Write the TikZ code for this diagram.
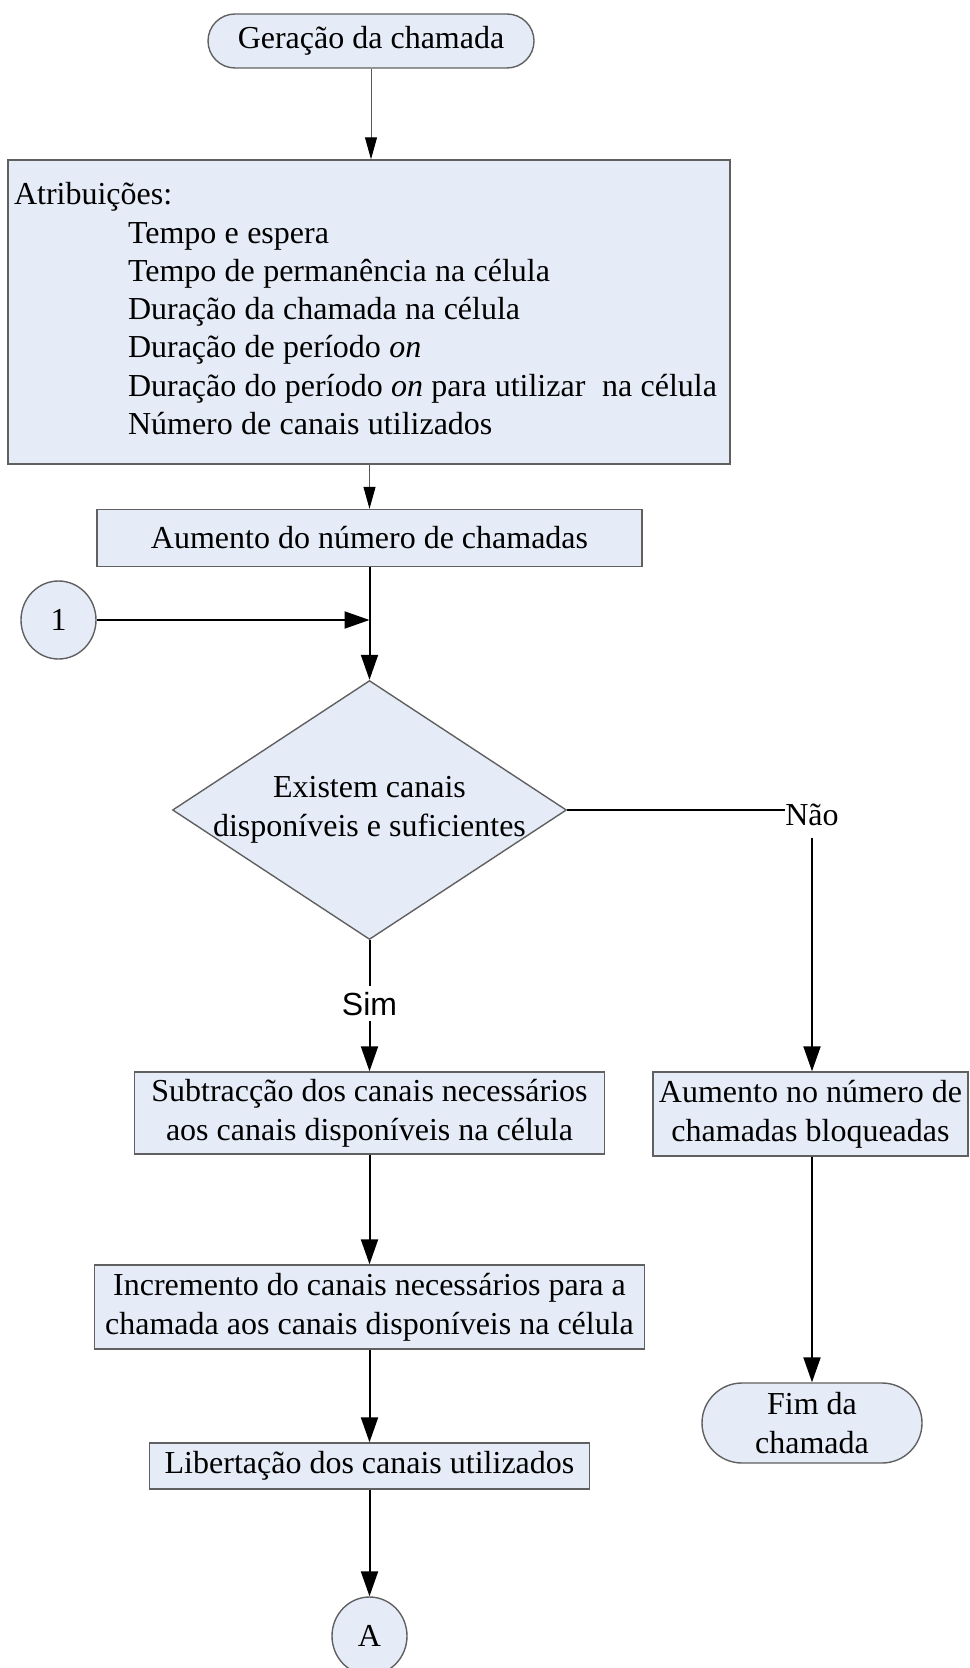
\documentclass[tikz,border=0pt]{standalone}
\usepackage{fontspec}
\setmainfont{Liberation Serif}
\newfontfamily\simfont{Liberation Sans}
\usetikzlibrary{calc, positioning}
\usetikzlibrary{arrows.meta}
\usetikzlibrary{shapes.geometric}
\definecolor{boxfill}{RGB}{230,236,247}
\definecolor{boxline}{RGB}{96,96,96}

\begin{document}
\begin{tikzpicture}[x=0.5pt,y=-0.5pt,font=\fontsize{16pt}{19.5pt}\selectfont,
  box/.style={draw=boxline,fill=boxfill,line width=0.7pt,inner sep=0pt,align=center},
  term/.style={box,rounded corners=#1},
  flow/.style={line width=1pt,-{Triangle[length=12.5pt,width=8.5pt]}},
  thinflow/.style={draw=black!65,line width=0.5pt,-{Triangle[length=11pt,width=6pt,black]}}]
\useasboundingbox (0,0) rectangle (969,1668);

\node[term=13.5pt,minimum width=163pt,minimum height=27pt] (start) at (371,41) {Geração da chamada};
\node[box,minimum width=361pt,minimum height=152pt,text width=355pt,inner xsep=3pt,align=left,
  font=\fontsize{16pt}{19.15pt}\selectfont] (attr) at (369,312)
  {\spaceskip=0.26em\relax
   \begin{tabular}{@{}l@{}}
   Atribuições:\\
   \hspace*{57pt}Tempo e espera\\
   \hspace*{57pt}Tempo de permanência na célula\\
   \hspace*{57pt}Duração da chamada na célula\\
   \hspace*{57pt}Duração de período \textit{on}\\
   \hspace*{57pt}Duração do período \textit{on} para utilizar\ \ na célula\\
   \hspace*{57pt}Número de canais utilizados
   \end{tabular}};
\node[box,minimum width=272.5pt,minimum height=28.5pt] (aum) at (369.5,538) {Aumento do número de chamadas};
\node[box,ellipse,minimum width=37.5pt,minimum height=39pt] (one) at (58.5,620) {1};
\coordinate (join) at (aum.south |- one.east);
\node[box,diamond,minimum width=197pt,minimum height=129.5pt,
  label={[align=center]center:Existem canais\\disponíveis e suficientes}] (test) at (369.5,810) {};
\node[anchor=base,inner xsep=0pt,inner ysep=6pt] (nao) at (812,825) {Não};
\node[anchor=base,inner ysep=2.75pt,font=\simfont\fontsize{16pt}{19.5pt}\selectfont] (sim) at (369.5,1015) {Sim};
\node[box,minimum width=235pt,minimum height=41pt] (sub) at (369.5,1113) {Subtracção dos canais necessários\\aos canais disponíveis na célula};
\node[box,minimum width=157.5pt,minimum height=42pt] (bloq) at (810.5,1114) {Aumento no número de\\chamadas bloqueadas};
\node[box,minimum width=275pt,minimum height=42pt] (inc) at (369.5,1307) {Incremento do canais necessários para a\\chamada aos canais disponíveis na célula};
\node[box,minimum width=220pt,minimum height=23pt] (lib) at (369.5,1466) {Libertação dos canais utilizados};
\node[box,ellipse,minimum width=37.5pt,minimum height=39pt] (a) at (369.5,1636) {A};
\node[term=20pt,minimum width=110pt,minimum height=40pt] (fim) at (812,1423) {Fim da\\chamada};

\draw[thinflow] (start.south) -- (start.south |- attr.north);
\draw[thinflow] (aum.north |- attr.south) -- (aum.north);
\draw[flow] (aum) -- (test);
\draw[flow] (one.east) -- (join);
\draw[line width=1pt] (test.east) -- (test.east -| nao.west);
\draw[flow] (nao.south) -- (nao.south |- bloq.north);
\draw[line width=1pt] (test.south) -- (sim.north);
\draw[flow] (sim.south) -- (sub.north);
\draw[flow] (sub) -- (inc);
\draw[flow] (inc) -- (lib);
\draw[flow] (lib) -- (a);
\draw[flow] (fim.north |- bloq.south) -- (fim.north);
\end{tikzpicture}
\end{document}
